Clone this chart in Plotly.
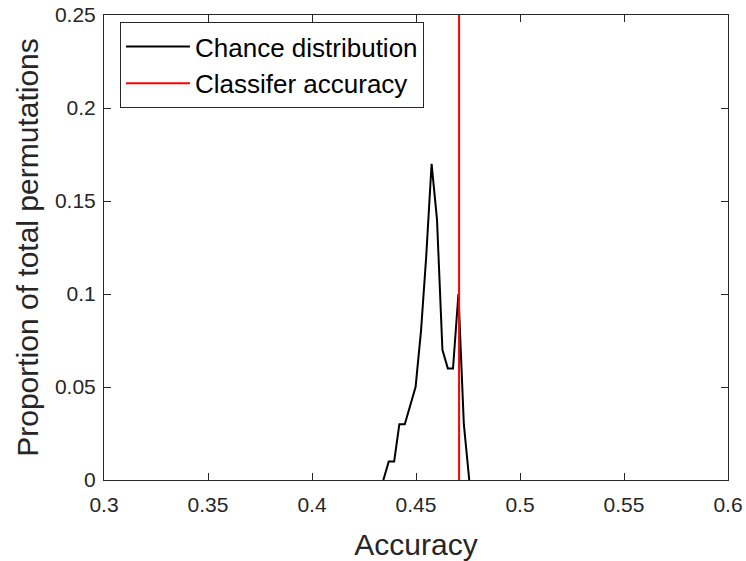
import plotly.graph_objects as go

# Chance distribution (permutation histogram)
chance_x = [0.4343, 0.4369, 0.4395, 0.4420, 0.4446, 0.4472, 0.4498, 0.4524, 0.4549,
            0.4575, 0.4601, 0.4627, 0.4653, 0.4678, 0.4704, 0.4730, 0.4756]
chance_y = [0.00, 0.01, 0.01, 0.03, 0.03, 0.04, 0.05, 0.08, 0.12,
            0.17, 0.14, 0.07, 0.06, 0.06, 0.10, 0.03, 0.00]

# Classifier accuracy (vertical line)
classifier_acc = 0.4707
acc_line_y = [0, 0.25]

x_ticks = [0.3, 0.35, 0.4, 0.45, 0.5, 0.55, 0.6]
y_ticks = [0, 0.05, 0.1, 0.15, 0.2, 0.25]

FONT = "Liberation Sans, Arial, Helvetica, sans-serif"
AX = "#262626"

fig = go.Figure()
fig.add_trace(go.Scatter(x=chance_x, y=chance_y, mode="lines",
                         line=dict(color="black", width=2),
                         name="Chance distribution"))
fig.add_trace(go.Scatter(x=[classifier_acc, classifier_acc], y=acc_line_y, mode="lines",
                         line=dict(color="#ff0000", width=2),
                         name="Classifer accuracy"))

axis_common = dict(showgrid=False, zeroline=False, showline=True, linecolor=AX, linewidth=1,
                   mirror="ticks", ticks="inside", ticklen=7, tickcolor=AX, tickwidth=1,
                   automargin=False,
                   tickfont=dict(size=21, color=AX, family=FONT))

fig.update_xaxes(range=[0.3, 0.6], tickvals=x_ticks, ticktext=[str(v) for v in x_ticks],
                 ticklabelstandoff=6,
                 title=dict(text="Accuracy", font=dict(size=30, color=AX, family=FONT), standoff=19),
                 **axis_common)
fig.update_yaxes(range=[0, 0.25], tickvals=y_ticks, ticktext=[str(v) for v in y_ticks],
                 ticklabelstandoff=3,
                 title=dict(text="Proportion of total permutations",
                            font=dict(size=30, color=AX, family=FONT), standoff=7),
                 **axis_common)

fig.update_layout(
    width=746, height=561,
    margin=dict(l=104, r=18, t=15, b=81, autoexpand=False),
    paper_bgcolor="white", plot_bgcolor="white",
    font=dict(family=FONT, color=AX),
    legend=dict(x=0.0256, y=0.985, xanchor="left", yanchor="top",
                bgcolor="white", bordercolor=AX, borderwidth=1,
                font=dict(size=26, color="black", family=FONT),
                itemwidth=64),
    showlegend=True,
)

fig.write_html("out.html",
               config={"displayModeBar": False},
               post_script="document.body.style.margin='0';document.body.style.overflow='hidden';")
